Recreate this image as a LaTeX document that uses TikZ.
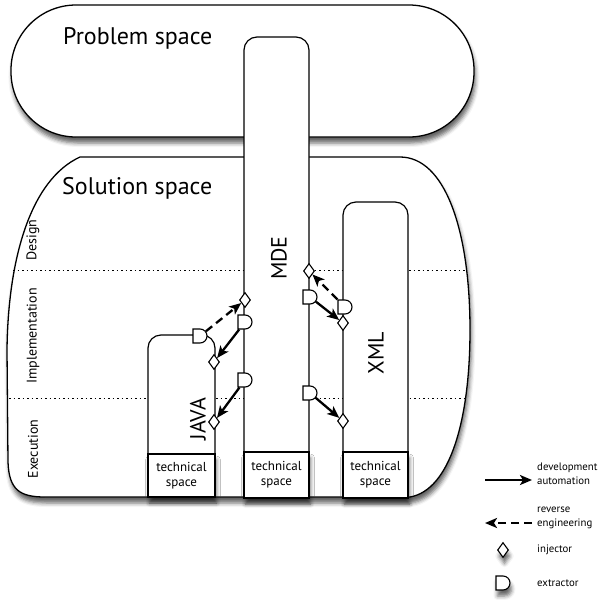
\documentclass[tikz,border=0pt]{standalone}
\usepackage{fontspec}
\setmainfont{PT Sans}
\usetikzlibrary{arrows.meta,shapes.geometric,shapes.misc,shadows.blur}

\tikzset{
  softshadow/.style={blur shadow={shadow xshift=1.5pt,shadow yshift=-6pt,shadow blur radius=4pt,shadow opacity=60}},
  space/.style={draw, line width=1.3pt, fill=white, softshadow},
  spacelabel/.style={anchor=west, inner sep=0pt, font=\fontsize{24}{28}\selectfont},
  phase/.style={rotate=90, inner sep=0pt, font=\fontsize{14}{16}\selectfont},
  phaseline/.style={line width=1pt, dash pattern=on 1.5pt off 3pt},
  colbox/.style={draw, line width=1.2pt, fill=white, rounded corners=13pt, inner sep=0pt},
  collabel/.style={rotate=90, inner sep=0pt, font=\fontsize{22}{26}\selectfont},
  techbox/.style={draw, line width=1.2pt, fill=white, inner sep=0pt, align=center,
    font=\fontsize{13}{15}\selectfont, softshadow},
  injector/.style={diamond, draw, line width=1.1pt, fill=white, inner sep=0pt,
    minimum width=11pt, minimum height=15pt},
  extractor/.style={rounded rectangle, rounded rectangle west arc=none, draw, line width=1.1pt,
    fill=white, inner sep=0pt, minimum width=12pt, minimum height=14pt},
  devarrow/.style={line width=2.3pt, -{Stealth[length=12pt,width=10pt,inset=3pt]}},
  revarrow/.style={devarrow, dash pattern=on 8pt off 5pt},
  legendtext/.style={anchor=west, inner sep=0pt, align=left, font=\fontsize{10.8}{13.5}\selectfont}
}

\begin{document}
\begin{tikzpicture}[x=1pt, y=-1pt]
  \useasboundingbox (0,0) rectangle (600,600);

  % problem and solution spaces
  \node[space, rounded corners=65pt, minimum width=463pt, minimum height=132pt] (problem) at (242.5,71) {};
  \node[spacelabel] (problemlabel) at (63,38) {Problem space};

  \draw[space] (80,157) .. controls (30,180) and (8,260) .. (7,350) -- (8,462)
    .. controls (9,490) and (20,497) .. (45,497) -- (410,497)
    .. controls (450,490) and (470,420) .. (470,330)
    .. controls (470,230) and (445,157) .. (400,157) -- cycle;
  \node[spacelabel] (solutionlabel) at (62,188) {Solution space};

  % phases
  \draw[phaseline] (13,270) -- (467,270);
  \draw[phaseline] (9,398) -- (468,398);
  \node[phase] (design) at (33,240) {Design};
  \node[phase] (impl) at (33,336) {Implementation};
  \node[phase] (exec) at (33,449) {Execution};

  % technical spaces
  \node[colbox, minimum width=67pt, minimum height=162pt] (java) at (181.5,416) {};
  \node[colbox, minimum width=65pt, minimum height=461pt] (mde) at (276.5,267.5) {};
  \node[colbox, minimum width=65pt, minimum height=296pt] (xml) at (375.5,350) {};
  \node[techbox, minimum width=67pt, minimum height=43pt] (javats) at (181.5,475.5) {technical\\space};
  \node[techbox, minimum width=65pt, minimum height=46pt] (mdets) at (276.5,475) {technical\\space};
  \node[techbox, minimum width=65pt, minimum height=46pt] (xmlts) at (375.5,475) {technical\\space};
  \node[collabel] (javalabel) at (198,419) {JAVA};
  \node[collabel] (mdelabel) at (279,258) {MDE};
  \node[collabel] (xmllabel) at (376,353) {XML};

  % injectors and extractors
  \node[extractor] (ej) at (200,336) {};
  \node[injector] (ij1) at (214,362) {};
  \node[injector] (ij2) at (214,422) {};
  \node[injector] (im1) at (245,300) {};
  \node[extractor] (em1) at (245,322) {};
  \node[extractor] (em2) at (245,380) {};
  \node[injector] (im2) at (309,271) {};
  \node[extractor] (em3) at (310,297) {};
  \node[extractor] (em4) at (310,393) {};
  \node[extractor] (ex1) at (345,307) {};
  \node[injector] (ix1) at (343,323) {};
  \node[injector] (ix2) at (343,421) {};

  \draw[revarrow] (ej) -- (im1);
  \draw[devarrow] (em1) -- (ij1);
  \draw[devarrow] (em2) -- (ij2);
  \draw[revarrow] (ex1) -- (im2);
  \draw[devarrow] (em3) -- (ix1);
  \draw[devarrow] (em4) -- (ix2);

  % legend
  \coordinate (devA) at (485,480);
  \coordinate (devB) at (532,480);
  \draw[devarrow] (devA) -- (devB);
  \node[legendtext] (devtext) at (537,474) {development\\automation};
  \coordinate (revA) at (532,523);
  \coordinate (revB) at (485,523);
  \draw[revarrow] (revA) -- (revB);
  \node[legendtext] (revtext) at (537,518) {reverse\\engineering};
  \node[injector, softshadow] (leginj) at (503,550) {};
  \node[legendtext] (injtext) at (537,550) {injector};
  \node[extractor, softshadow] (legext) at (503,583) {};
  \node[legendtext] (exttext) at (537,583) {extractor};
\end{tikzpicture}
\end{document}
